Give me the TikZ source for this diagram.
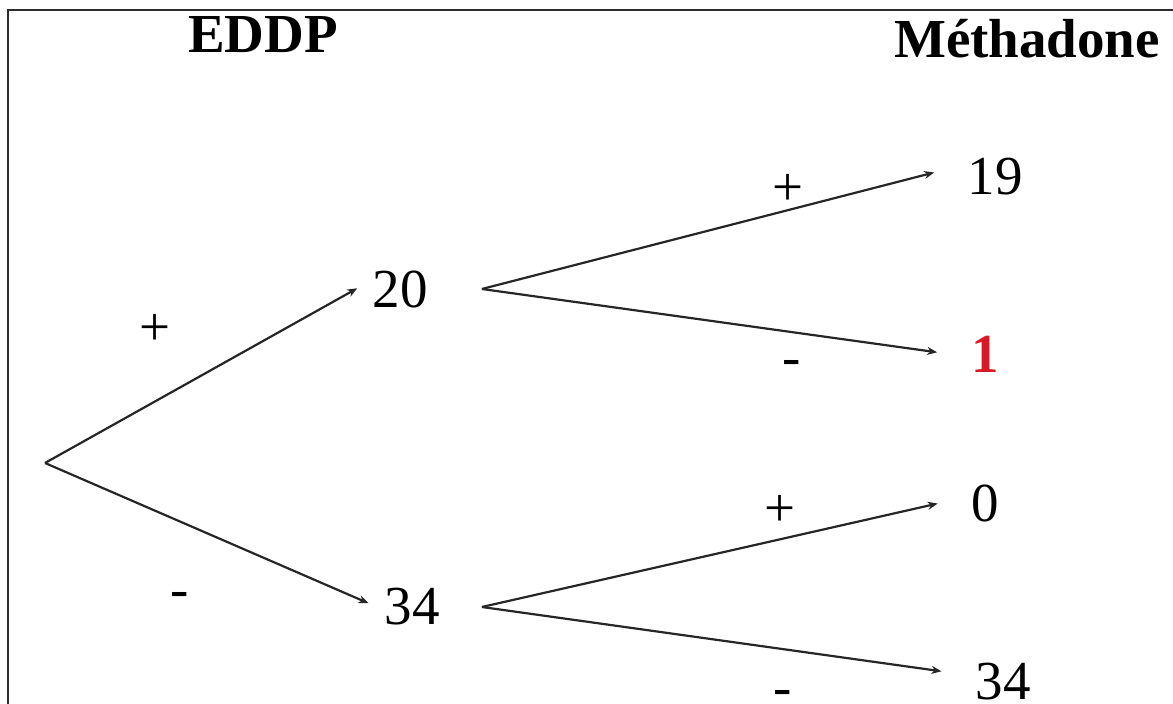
\documentclass[tikz,border=0pt]{standalone}
\usepackage{fontspec}
\setmainfont{Liberation Serif}
\usetikzlibrary{arrows.meta}
\definecolor{framegray}{RGB}{45,45,45}
\definecolor{oddred}{RGB}{215,25,40}

\begin{document}
\begin{tikzpicture}[x=0.5pt, y=-0.5pt,
    every node/.style={inner sep=0pt, font=\fontsize{27.5}{30}\selectfont},
    head/.style={anchor=base, font=\fontsize{27.5}{30}\selectfont\bfseries},
    sign/.style={anchor=base},
    branch/.style={-{Stealth[length=5pt,width=4pt]}, line width=1.1pt, black!85, shorten >=8.5pt},
    leaf/.style={-{Stealth[length=5pt,width=4pt]}, line width=1.1pt, black!85, shorten >=17pt}]
        \useasboundingbox (0,0) rectangle (1173,704);
        \draw[framegray, line width=1pt] (8,704) -- (8,10) -- (1173,10);

        \node[head] (eddp) at (263,53) {EDDP};
        \node[head] (methadone) at (1027,58) {Méthadone};

        \coordinate (root) at (45,463);
        \node (n20) at (400,289) {20};
        \node (n34) at (412,607) {34};

        \node (pp) at (995,177) {19};
        \node[text=oddred, font=\fontsize{27.5}{30}\selectfont\bfseries] (pm) at (985,354) {1};
        \node (mp) at (985,503) {0};
        \node (mm) at (1003,682) {34};

        % EDDP branches
        \draw[branch] (root) -- ([yshift=4.5pt]n20.west);
        \draw[branch] (root) -- ([yshift=-1.5pt]n34.west);
        % Methadone branches
        \draw[leaf] ([xshift=27pt]n20.east) -- ([yshift=6.5pt]pp.west);
        \draw[leaf] ([xshift=27pt]n20.east) -- ([yshift=-1.5pt]pm.west);
        \draw[leaf] ([xshift=21pt]n34.east) -- ([yshift=3.5pt]mp.west);
        \draw[leaf] ([xshift=21pt]n34.east) -- ([yshift=3pt]mm.west);

        \node[sign] at (155,346) {+};
        \node[sign] at (180,608) {-};
        \node[sign] at (788,206) {+};
        \node[sign] at (792,376) {-};
        \node[sign] at (780,527) {+};
        \node[sign] at (783,706) {-};
    \end{tikzpicture}
\end{document}
